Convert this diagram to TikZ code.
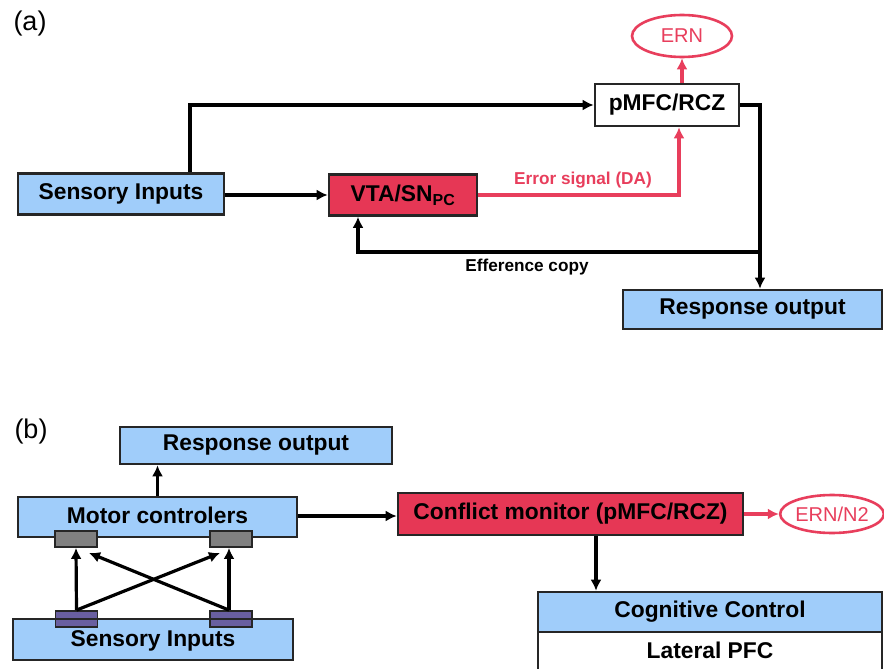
\documentclass[tikz,border=0pt]{standalone}
\usepackage{fontspec}
\setmainfont{Liberation Sans}
\usetikzlibrary{arrows.meta,shapes.geometric,calc}
\definecolor{boxblue}{RGB}{160,205,250}
\definecolor{boxred}{RGB}{230,55,85}
\definecolor{linered}{RGB}{232,62,92}
\definecolor{pgray}{RGB}{128,128,128}
\definecolor{ppurple}{RGB}{105,95,160}
\begin{document}
\begin{tikzpicture}[x=1pt,y=-1pt,
  txt/.style={inner sep=0pt, font=\fontsize{22.8}{26}\selectfont\bfseries},
  bx/.style={txt, draw=black!85, line width=2.6pt},
  bluebox/.style={bx, fill=boxblue},
  redbox/.style={bx, fill=boxred},
  whitebox/.style={bx, fill=white},
  ernell/.style={ellipse, draw=linered, line width=2.6pt, inner sep=0pt, text=linered, font=\fontsize{20}{24}\selectfont},
  small/.style={draw=black!85, line width=1.8pt, inner sep=0pt, minimum width=42pt, minimum height=16pt},
  arr/.style={line width=3.2pt, -{Latex[length=11pt,width=11pt]}},
  redarr/.style={arr, draw=linered},
  lbl/.style={font=\fontsize{27}{30}\selectfont},
  note/.style={font=\fontsize{17.2}{20}\selectfont\bfseries}
]
\clip (0,0) rectangle (884,669);
\fill[white] (0,0) rectangle (884,669);

% ---------------- panel (a)
\node[lbl] (la) at (30,24) {(a)};
\node[bluebox, minimum width=206pt, minimum height=41pt] (sa) at (121,194) {Sensory Inputs};
\node[redbox, minimum width=148pt, minimum height=41pt] (vta) at (403,195) {VTA/SN\textsubscript{PC}};
\node[whitebox, minimum width=144pt, minimum height=42pt] (pm) at (667,105) {pMFC/RCZ};
\node[ernell, minimum width=100pt, minimum height=42pt] (ern) at (682,36) {ERN};
\node[bluebox, minimum width=259pt, minimum height=39pt] (roa) at (752.5,309.5) {Response output};

\coordinate (c1) at (190,105);
\coordinate (es) at (679,195);
\coordinate (rx) at (760,105);
\coordinate (ef) at (760,252);
\coordinate (eb) at (358,252);

\draw[arr] (sa.north -| c1) |- (pm.west);
\draw[arr] (sa.east |- vta.west) -- (vta.west);
\draw[redarr] (vta.east) -| (pm.south -| es);
\draw[redarr] (pm.north -| ern.south) -- (ern.south);
\draw[arr] (pm.east) -| (roa.north -| rx);
\draw[arr] (ef) -| (vta.south -| eb);
\node[note, text=linered] (esl) at (583,180) {Error signal (DA)};
\node[note] (efl) at (527,267) {Efference copy};

% ---------------- panel (b)
\node[lbl] (lb) at (31,432) {(b)};
\node[bluebox, minimum width=272pt, minimum height=37pt] (rob) at (256,445.5) {Response output};
\node[bluebox, minimum width=279pt, minimum height=40pt] (mc) at (157.5,517) {};
\node[txt] (mct) at (157.5,515) {Motor controlers};
\node[bluebox, minimum width=280pt, minimum height=41pt] (sb) at (153,639.5) {};
\node[txt] (sbt) at (153,641) {Sensory Inputs};

\node[small, fill=pgray] (g1) at (76,539) {};
\node[small, fill=pgray] (g2) at (231,539) {};
\node[small, fill=ppurple] (p1) at (76.5,619) {};
\node[small, fill=ppurple] (p2) at (231,619) {};
\draw[draw=black!85, line width=1.8pt] (p1.west) -- (p1.east);
\draw[draw=black!85, line width=1.8pt] (p2.west) -- (p2.east);

\draw[arr] (p1.north) -- (g1.south);
\draw[arr] (p2.north -| 229,0) -- (g2.south -| 229,0);
\draw[arr] (p1.north) -- ($(g2.south)+(-11,5)$);
\draw[arr] (p2.north -| 229,0) -- ($(g1.south)+(13,5)$);

\draw[arr] (mc.north) -- (mc.north |- rob.south);

\node[redbox, minimum width=345pt, minimum height=42pt] (cm) at (570.5,514) {Conflict monitor (pMFC/RCZ)};
\node[ernell, minimum width=101pt, minimum height=38pt] (en) at (832,514) {ERN/N2};
\draw[arr] (mc.east |- 0,516) -- (cm.west |- 0,516);
\draw[redarr] (cm.east) -- (en.west);

\node[bluebox, minimum width=344pt, minimum height=40pt] (cc) at (710,612) {Cognitive Control};
\node[whitebox, minimum width=344pt, minimum height=44pt] (lp) at (710,654) {};
\node[txt] (lpt) at (710,650) {Lateral PFC};
\draw[arr] (cm.south -| 596,0) -- (cc.north -| 596,0);
\end{tikzpicture}
\end{document}
